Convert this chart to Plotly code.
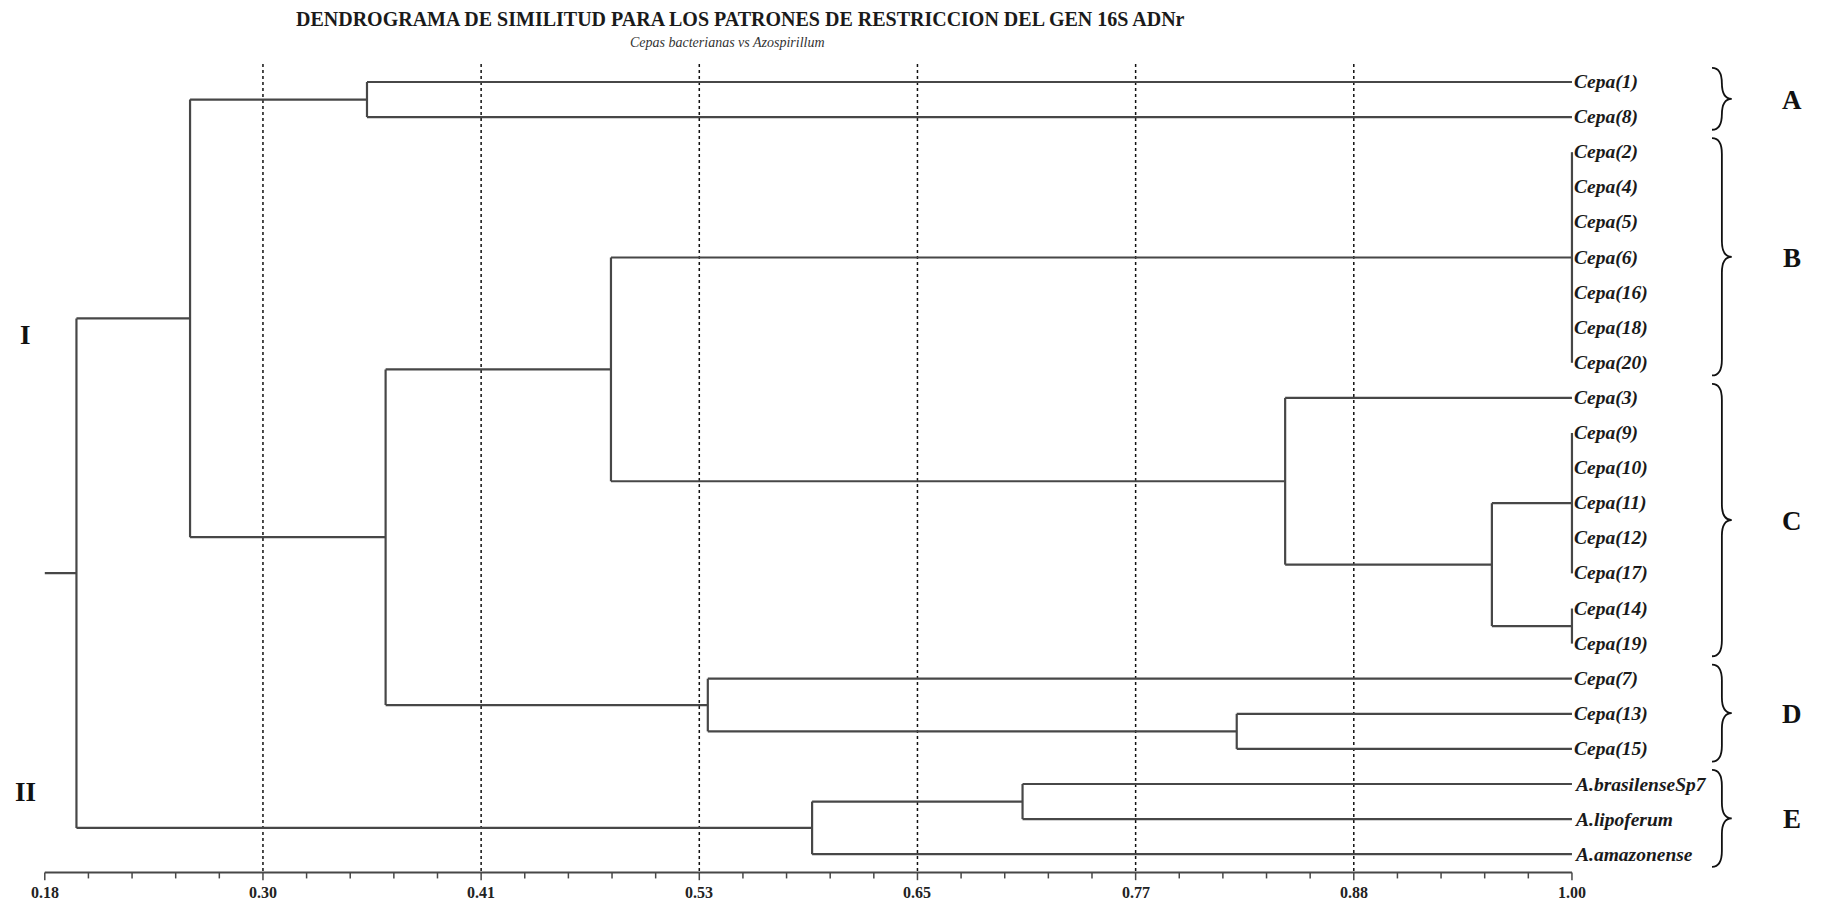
import plotly.graph_objects as go

# Leaves, top to bottom
leaf_labels = [
    "Cepa(1)", "Cepa(8)", "Cepa(2)", "Cepa(4)", "Cepa(5)", "Cepa(6)", "Cepa(16)",
    "Cepa(18)", "Cepa(20)", "Cepa(3)", "Cepa(9)", "Cepa(10)", "Cepa(11)", "Cepa(12)",
    "Cepa(17)", "Cepa(14)", "Cepa(19)", "Cepa(7)", "Cepa(13)", "Cepa(15)",
    "A.brasilenseSp7", "A.lipoferum", "A.amazonense",
]

# Merges: ids 0..22 are the leaves, each merge below gets the next id (23, 24, ...)
merge_children = [
    [0, 1],                 # 23
    [2, 3, 4, 5, 6, 7, 8],  # 24
    [10, 11, 12, 13, 14],   # 25
    [15, 16],               # 26
    [25, 26],               # 27
    [9, 27],                # 28
    [24, 28],               # 29
    [18, 19],               # 30
    [17, 30],               # 31
    [29, 31],               # 32
    [23, 32],               # 33
    [20, 21],               # 34
    [34, 22],               # 35
    [33, 35],               # 36 (root)
]
merge_similarity = [0.353, 1.00, 1.00, 1.00, 0.957, 0.846, 0.484,
                    0.820, 0.536, 0.363, 0.258, 0.705, 0.592, 0.197]

axis_min, axis_max = 0.18, 1.00
tick_labels = ["0.18", "0.30", "0.41", "0.53", "0.65", "0.77", "0.88", "1.00"]

group_names = ["A", "B", "C", "D", "E"]
group_first = [0, 2, 9, 17, 20]
group_last = [1, 8, 16, 19, 22]

TITLE = "DENDROGRAMA DE SIMILITUD PARA LOS PATRONES DE RESTRICCION DEL GEN 16S ADNr"
SUBTITLE = "Cepas bacterianas vs Azospirillum"

LINE = "#474747"
SERIF = "Liberation Serif, Times New Roman, serif"

# ---- node positions ----
n = len(leaf_labels)
xpos = [axis_max] * n
ypos = [float(i) for i in range(n)]
seg_x, seg_y = [], []
for children, sim in zip(merge_children, merge_similarity):
    ys = [ypos[c] for c in children]
    y_lo, y_hi = min(ys), max(ys)
    seg_x += [sim, sim, None]
    seg_y += [y_lo, y_hi, None]
    for c in children:
        if xpos[c] != sim:
            seg_x += [xpos[c], sim, None]
            seg_y += [ypos[c], ypos[c], None]
    xpos.append(sim)
    ypos.append((y_lo + y_hi) / 2)

# stub from the start of the scale to the root
seg_x += [axis_min, xpos[-1], None]
seg_y += [ypos[-1], ypos[-1], None]

fig = go.Figure()

# ---- dashed reference lines at the inner ticks ----
n_major = len(tick_labels) - 1
step = (axis_max - axis_min) / n_major
major = [axis_min + i * step for i in range(n_major + 1)]
axis_y = 22.52
for v in major[1:-1]:
    fig.add_shape(type="line", x0=v, x1=v, y0=-0.51, y1=axis_y, xref="x", yref="y",
                  line=dict(color="#111111", width=1.5, dash="3px,3px"), layer="below")

# ---- tree ----
fig.add_trace(go.Scatter(x=seg_x, y=seg_y, mode="lines",
                         line=dict(color=LINE, width=2.2), hoverinfo="skip",
                         showlegend=False))

# ---- leaf labels ----
for i, t in enumerate(leaf_labels):
    fig.add_annotation(x=axis_max, y=i, xref="x", yref="y", text=f"<b><i>{t}</i></b>",
                       showarrow=False, xanchor="left", yanchor="middle", xshift=0,
                       font=dict(family=SERIF, size=19.5, color="#1a1a1a"))

# ---- scale axis drawn along the bottom ----
fig.add_shape(type="line", x0=axis_min, x1=axis_max, y0=axis_y, y1=axis_y,
              xref="x", yref="y", line=dict(color=LINE, width=2))
minor = [axis_min + i * step / 5 for i in range(n_major * 5 + 1)]
tick_x, tick_y = [], []
for i, v in enumerate(minor):
    length = 0.22 if i % 5 == 0 else 0.17
    tick_x += [v, v, None]
    tick_y += [axis_y, axis_y + length, None]
fig.add_trace(go.Scatter(x=tick_x, y=tick_y, mode="lines",
                         line=dict(color=LINE, width=1.5), hoverinfo="skip",
                         showlegend=False))
for v, lab in zip(major, tick_labels):
    fig.add_annotation(x=v, y=23.1, xref="x", yref="y", text=f"<b>{lab}</b>",
                       showarrow=False, yanchor="middle",
                       font=dict(family=SERIF, size=16, color="#222222"))

# ---- group braces and letters ----
def brace_path(x0, x1, ytop, ybot, r=0.45):
    xm = (x0 + x1) / 2
    ymid = (ytop + ybot) / 2
    return (f"M {x0},{ytop} Q {xm},{ytop} {xm},{ytop + r} "
            f"L {xm},{ymid - r} Q {xm},{ymid} {x1},{ymid} "
            f"Q {xm},{ymid} {xm},{ymid + r} "
            f"L {xm},{ybot - r} Q {xm},{ybot} {x0},{ybot}")

for name, first, last in zip(group_names, group_first, group_last):
    fig.add_shape(type="path", xref="x", yref="y",
                  path=brace_path(1.0752, 1.0858, first - 0.4, last + 0.36),
                  line=dict(color="#111111", width=1.8))
    fig.add_annotation(x=1.1181, y=(first + last) / 2, xref="x", yref="y",
                       text=f"<b>{name}</b>", showarrow=False, yanchor="middle",
                       font=dict(family=SERIF, size=27, color="#111111"))

# cluster marks on the left
for txt, yy in [("I", 7.21), ("II", 20.23)]:
    fig.add_annotation(x=0.1699, y=yy, xref="x", yref="y", text=f"<b>{txt}</b>",
                       showarrow=False, yanchor="middle",
                       font=dict(family=SERIF, size=27, color="#111111"))

# ---- titles ----
fig.add_annotation(x=0.406, y=1 - 19 / 905, xref="paper", yref="paper",
                   text=f"<b>{TITLE}</b>", showarrow=False, yanchor="middle",
                   font=dict(family=SERIF, size=20, color="#1a1a1a"))
fig.add_annotation(x=0.399, y=1 - 43 / 905, xref="paper", yref="paper",
                   text=f"<i>{SUBTITLE}</i>", showarrow=False, yanchor="middle",
                   font=dict(family=SERIF, size=14, color="#333333"))

fig.update_layout(
    width=1824, height=905, autosize=False,
    margin=dict(l=0, r=0, t=0, b=0),
    paper_bgcolor="white", plot_bgcolor="white",
    xaxis=dict(range=[0.15595, 1.13533], visible=False, fixedrange=True),
    yaxis=dict(range=[23.447, -2.336], visible=False, fixedrange=True),
)

fig.write_html("out.html")
